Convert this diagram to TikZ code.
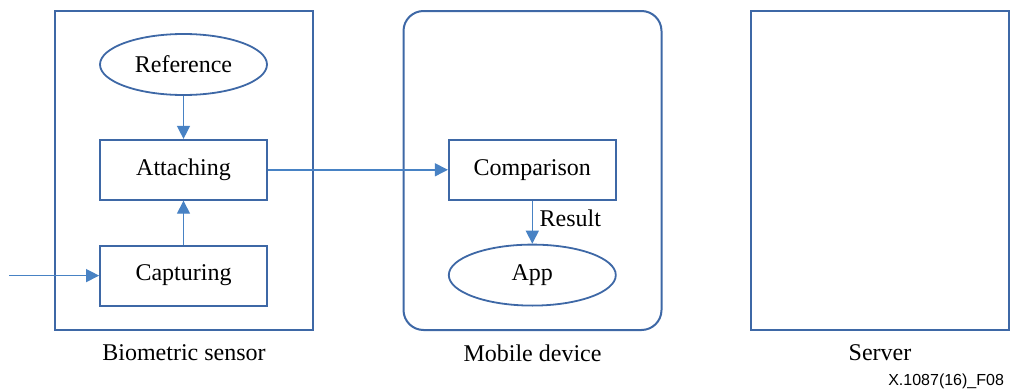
\documentclass[tikz,border=0pt]{standalone}
\usepackage{fontspec}
\setmainfont{Liberation Serif}
\newfontfamily\tagfont{Liberation Sans}
\usetikzlibrary{shapes.geometric, arrows.meta, positioning}
\definecolor{frameblue}{RGB}{62,104,166}
\definecolor{linkblue}{RGB}{72,130,196}
\tikzset{
    block/.style={rectangle, minimum width=83.5pt, minimum height=30pt, align=center, draw=frameblue, line width=0.9pt},
    oval/.style={ellipse, minimum width=83.5pt, minimum height=30.5pt, align=center, draw=frameblue, line width=0.9pt},
    devicebox/.style={rectangle, draw=frameblue, line width=1pt, minimum width=129pt, minimum height=159.5pt},
    arrow/.style={draw=linkblue, line width=0.7pt, -{Triangle[length=6.5pt, width=6.5pt, fill=linkblue]}}
}

\begin{document}
\begin{tikzpicture}[
        x=0.5pt, y=-0.5pt,
        % Define standard spacing
        node distance=21.5pt and 90pt,
        font=\fontsize{12}{14}\selectfont,
        lbl/.style={font=\fontsize{12}{14}\selectfont, text=black},
        tag/.style={font=\tagfont\fontsize{8}{10}\selectfont}
    ]
        \useasboundingbox (0,0) rectangle (1013,391);

        % --- Biometric sensor ---
        \node (sensor) [devicebox] at (184,170.5) {};
        \node (reference) [oval] at (183.5,64.5) {Reference};
        \node (attaching) [block, below=21.5pt of reference] {Attaching};
        \node (capturing) [block, below=22pt of attaching] {Capturing};
        \coordinate (input) at ([xshift=-45pt]capturing.west);

        % Sensor connections
        \draw [arrow] (reference) -- (attaching);
        \draw [arrow] (capturing) -- (attaching);
        \draw [arrow] (input) -- (capturing);

        % --- Mobile device ---
        \node (mobile) [devicebox, rounded corners=10pt] at (532.5,170.5) {};
        \node (comparison) [block, right=90pt of attaching] {Comparison};
        \node (app) [oval, below=21.5pt of comparison] {App};

        % Mobile connections
        \draw [arrow] (attaching) -- (comparison);
        \draw [arrow] (comparison) -- node[right, lbl, pos=0.4] {Result} (app);

        % --- Server ---
        \node (server) [devicebox] at (880,170.5) {};

        % --- Captions ---
        \node (sensor_name) [lbl] at (184,353) {Biometric sensor};
        \node (mobile_name) [lbl] at (532.5,353) {Mobile device};
        \node (server_name) [lbl] at (880,353) {Server};
        \node (fig_tag) [tag, anchor=east] at (1011,381) {X.1087(16)\_F08};

    \end{tikzpicture}
\end{document}
